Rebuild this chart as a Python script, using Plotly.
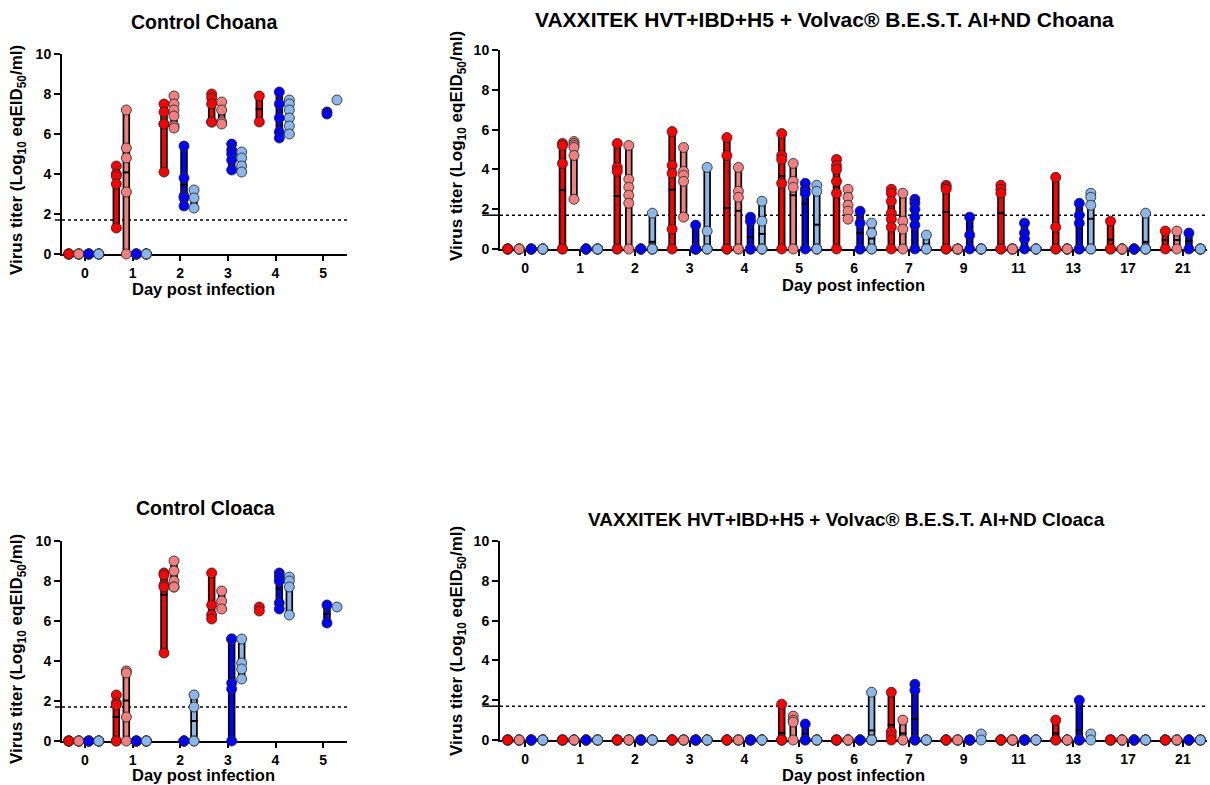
import plotly.graph_objects as go

# ---------------- data ----------------
CTRL_DAYS = ["0", "1", "2", "3", "4", "5"]
VAX_DAYS = ["0", "1", "2", "3", "4", "5", "6", "7", "9", "11", "13", "17", "21"]
GROUP_COLORS = ["#FF0000", "#F08080", "#0000FF", "#8DB6E8"]
LOD = 1.7

ctrl_choana_red = [[0, 0, 0, 0, 0], [4.4, 4.0, 3.9, 3.5, 1.3], [7.5, 7.1, 6.5, 6.5, 4.1],
                   [8.0, 7.8, 7.5, 6.6, 6.6], [7.9, 6.6], []]
ctrl_choana_pink = [[0, 0, 0, 0, 0], [7.2, 5.3, 4.8, 3.1, 0], [7.9, 7.5, 7.2, 6.9, 6.4, 6.3],
                    [7.6, 7.2, 6.6, 6.5], [], []]
ctrl_choana_blue = [[0, 0, 0, 0, 0], [0, 0, 0, 0, 0], [5.4, 3.8, 2.9, 2.8, 2.4],
                    [5.5, 5.2, 5.0, 4.7, 4.2], [8.1, 7.5, 6.8, 6.1, 5.8], [7.1, 7.0]]
ctrl_choana_lblue = [[0, 0, 0, 0, 0], [0, 0, 0, 0, 0], [3.2, 2.8, 2.3],
                     [5.1, 4.8, 4.4, 4.1], [7.7, 7.5, 7.2, 6.8, 6.4, 6.0], [7.7]]

ctrl_cloaca_red = [[0, 0, 0, 0, 0], [2.3, 1.9, 1.8, 0, 0], [8.4, 8.3, 7.8, 7.7, 4.4],
                   [8.4, 6.8, 6.3, 6.1], [6.7, 6.5], []]
ctrl_cloaca_pink = [[0, 0, 0, 0, 0], [3.5, 3.4, 1.2, 0], [9.0, 8.5, 8.0, 7.7, 7.7],
                    [7.5, 7.0, 6.6], [], []]
ctrl_cloaca_blue = [[0, 0, 0, 0, 0], [0, 0, 0, 0, 0], [0, 0, 0, 0, 0],
                    [5.1, 5.1, 2.9, 2.6, 0], [8.4, 8.2, 8.0, 6.9, 6.6], [6.8, 5.9]]
ctrl_cloaca_lblue = [[0, 0, 0, 0, 0], [0, 0, 0, 0, 0], [2.3, 1.7, 0, 0],
                     [5.1, 3.9, 3.6, 3.1], [8.2, 8.0, 7.7, 6.3], [6.7]]

vax_choana_red = [[0, 0, 0, 0, 0], [5.3, 5.2, 4.3, 0, 0], [5.3, 4.1, 3.9, 0, 0],
                  [5.9, 4.2, 3.8, 1.0, 0], [5.6, 4.7, 0, 0, 0], [5.8, 4.7, 4.5, 3.3, 0],
                  [4.5, 4.2, 4.0, 3.4, 2.8, 0], [3.0, 2.8, 2.4, 1.8, 1.5, 1.1, 0],
                  [3.2, 3.1, 3.0, 0, 0], [3.2, 3.0, 2.8, 0, 0], [3.6, 1.1, 0, 0],
                  [1.4, 0, 0], [0.9, 0]]
vax_choana_pink = [[0, 0, 0, 0, 0], [5.4, 5.3, 5.2, 5.1, 4.7, 2.5], [5.2, 3.5, 3.1, 2.7, 2.3, 0],
                   [5.1, 3.9, 3.7, 3.4, 1.6], [4.1, 2.9, 2.6, 0, 0], [4.3, 3.4, 3.1, 0],
                   [3.0, 2.6, 2.2, 1.9, 1.5], [2.8, 1.4, 1.0, 0], [0, 0, 0, 0, 0],
                   [0, 0, 0, 0, 0], [0, 0, 0, 0, 0], [0, 0, 0, 0, 0], [0.9, 0]]
vax_choana_blue = [[0, 0, 0, 0, 0], [0, 0, 0, 0, 0], [0, 0, 0, 0, 0],
                   [1.2, 0, 0, 0, 0, 0], [1.6, 1.4, 0, 0, 0], [3.3, 3.0, 2.8, 0],
                   [1.9, 1.3, 0, 0], [2.5, 2.3, 2.0, 1.6, 1.2, 0], [1.6, 0.7, 0],
                   [1.3, 0.8, 0.5, 0], [2.3, 1.7, 1.3, 0, 0], [0, 0, 0, 0, 0], [0.8, 0]]
vax_choana_lblue = [[0, 0, 0, 0, 0], [0, 0, 0, 0, 0], [1.8, 0, 0, 0, 0],
                    [4.1, 0.9, 0, 0, 0], [2.4, 1.4, 0, 0, 0], [3.2, 2.9, 0, 0, 0],
                    [1.3, 0.8, 0, 0], [0.7, 0, 0], [0, 0, 0, 0, 0], [0, 0, 0, 0, 0],
                    [2.8, 2.6, 2.2, 0, 0], [1.8, 0, 0, 0, 0], [0, 0, 0, 0, 0]]

vax_cloaca_red = [[0, 0, 0, 0, 0], [0, 0, 0, 0, 0], [0, 0, 0, 0, 0], [0, 0, 0, 0, 0],
                  [0, 0, 0, 0, 0], [1.8, 0, 0, 0, 0], [0, 0, 0, 0, 0], [2.4, 0.4, 0.2, 0],
                  [0, 0, 0, 0, 0], [0, 0, 0, 0, 0], [1.0, 0, 0], [0, 0, 0, 0, 0], [0, 0, 0, 0, 0]]
vax_cloaca_pink = [[0, 0, 0, 0, 0], [0, 0, 0, 0, 0], [0, 0, 0, 0, 0], [0, 0, 0, 0, 0],
                   [0, 0, 0, 0, 0], [1.2, 1.0, 0.9, 0], [0, 0, 0, 0, 0], [1.0, 0, 0],
                   [0, 0, 0, 0, 0], [0, 0, 0, 0, 0], [0, 0, 0, 0, 0], [0, 0, 0, 0, 0], [0, 0, 0, 0, 0]]
vax_cloaca_blue = [[0, 0, 0, 0, 0], [0, 0, 0, 0, 0], [0, 0, 0, 0, 0], [0, 0, 0, 0, 0],
                   [0, 0, 0, 0, 0], [0.8, 0, 0], [0, 0, 0, 0, 0], [2.8, 2.5, 0, 0, 0],
                   [0, 0, 0, 0, 0], [0, 0, 0, 0, 0], [2.0, 0, 0, 0], [0, 0, 0, 0, 0], [0, 0, 0, 0, 0]]
vax_cloaca_lblue = [[0, 0, 0, 0, 0], [0, 0, 0, 0, 0], [0, 0, 0, 0, 0], [0, 0, 0, 0, 0],
                    [0, 0, 0, 0, 0], [0, 0, 0, 0, 0], [2.4, 0, 0, 0, 0], [0, 0, 0, 0, 0],
                    [0.3, 0], [0, 0, 0, 0, 0], [0.3, 0], [0, 0, 0, 0, 0], [0, 0, 0, 0, 0]]

TITLES = ["Control Choana",
          "VAXXITEK HVT+IBD+H5 + Volvac® B.E.S.T. AI+ND Choana",
          "Control Cloaca",
          "VAXXITEK HVT+IBD+H5 + Volvac® B.E.S.T. AI+ND Cloaca"]
X_TITLE = "Day post infection"
Y_TITLE = "Virus titer (Log<sub>10</sub> eqEID<sub>50</sub>/ml)"

# ---------------- layout helpers ----------------
W, H = 1210, 785
FONT = "Arial, 'Liberation Sans', sans-serif"

def px_dom(a, b):
    return [a / W, b / W]

def py_dom(top, bottom):
    return [1 - bottom / H, 1 - top / H]

panels = [
    dict(days=CTRL_DAYS, groups=[ctrl_choana_red, ctrl_choana_pink, ctrl_choana_blue, ctrl_choana_lblue],
         xd=px_dom(62, 347), yd=py_dom(54, 254), xr=[-0.48, 5.5],
         offs=[-0.34, -0.13, 0.08, 0.29], half=0.075,
         title=TITLES[0], tpos=(204, 22), tsize=19.5,
         xtpos=(204, 289), ytpos=(18, 160)),
    dict(days=VAX_DAYS, groups=[vax_choana_red, vax_choana_pink, vax_choana_blue, vax_choana_lblue],
         xd=px_dom(500, 1207), yd=py_dom(50, 249), xr=[-0.46, 12.44],
         offs=[-0.32, -0.11, 0.11, 0.32], half=0.065,
         title=TITLES[1], tpos=(824, 20), tsize=21,
         xtpos=(853, 285), ytpos=(458, 146)),
    dict(days=CTRL_DAYS, groups=[ctrl_cloaca_red, ctrl_cloaca_pink, ctrl_cloaca_blue, ctrl_cloaca_lblue],
         xd=px_dom(62, 347), yd=py_dom(541, 741), xr=[-0.48, 5.5],
         offs=[-0.34, -0.13, 0.08, 0.29], half=0.075,
         title=TITLES[2], tpos=(205, 508), tsize=19.5,
         xtpos=(204, 775), ytpos=(18, 649)),
    dict(days=VAX_DAYS, groups=[vax_cloaca_red, vax_cloaca_pink, vax_cloaca_blue, vax_cloaca_lblue],
         xd=px_dom(500, 1207), yd=py_dom(541, 740), xr=[-0.46, 12.44],
         offs=[-0.32, -0.11, 0.11, 0.32], half=0.065,
         title=TITLES[3], tpos=(846, 519), tsize=19,
         xtpos=(853, 775), ytpos=(458, 641)),
]

fig = go.Figure()
annotations = []
shapes = []

for i, p in enumerate(panels):
    ax = "" if i == 0 else str(i + 1)
    xref, yref = "x" + ax, "y" + ax
    rng_x, rng_y = [[] for _ in range(4)], [[] for _ in range(4)]
    mean_x, mean_y = [], []
    pts = [([], []) for _ in range(4)]
    for g, series in enumerate(p["groups"]):
        for d, vals in enumerate(series):
            if not vals:
                continue
            pos = d + p["offs"][g]
            lo, hi = min(vals), max(vals)
            if hi > lo:
                rng_x[g] += [pos, pos, None]
                rng_y[g] += [lo, hi, None]
                m = sum(vals) / len(vals)
                mean_x += [pos - p["half"], pos + p["half"], None]
                mean_y += [m, m, None]
            for v in vals:
                pts[g][0].append(pos)
                pts[g][1].append(v)
    # range bars: black outline + coloured core
    all_x = [v for g in range(4) for v in rng_x[g]]
    all_y = [v for g in range(4) for v in rng_y[g]]
    fig.add_trace(go.Scatter(x=all_x, y=all_y, mode="lines",
                             line=dict(color="black", width=7.5),
                             xaxis=xref, yaxis=yref, showlegend=False, cliponaxis=False,
                             hoverinfo="skip"))
    for g in range(4):
        fig.add_trace(go.Scatter(x=rng_x[g], y=rng_y[g], mode="lines",
                                 line=dict(color=GROUP_COLORS[g], width=4),
                                 xaxis=xref, yaxis=yref, showlegend=False, cliponaxis=False,
                                 hoverinfo="skip"))
    fig.add_trace(go.Scatter(x=mean_x, y=mean_y, mode="lines",
                             line=dict(color="black", width=2),
                             xaxis=xref, yaxis=yref, showlegend=False, cliponaxis=False,
                             hoverinfo="skip"))
    for g in range(4):
        fig.add_trace(go.Scatter(x=pts[g][0], y=pts[g][1], mode="markers",
                                 marker=dict(size=10, color=GROUP_COLORS[g],
                                             line=dict(color="rgba(40,40,40,0.85)", width=1)),
                                 xaxis=xref, yaxis=yref, showlegend=False, cliponaxis=False))

    fig.update_layout(**{
        "xaxis" + ax: dict(domain=p["xd"], range=p["xr"], anchor=yref, automargin=False,
                           tickmode="array", tickvals=list(range(len(p["days"]))),
                           ticktext=p["days"], showline=True, linecolor="black", linewidth=2,
                           ticks="outside", ticklen=5, tickwidth=2, tickcolor="black",
                           showgrid=False, zeroline=False, layer="below traces",
                           tickfont=dict(family=FONT, size=14, color="black", weight="bold")),
        "yaxis" + ax: dict(domain=p["yd"], range=[0, 10], anchor=xref, automargin=False,
                           tickmode="array", tickvals=[0, 2, 4, 6, 8, 10],
                           showline=True, linecolor="black", linewidth=2,
                           ticks="outside", ticklen=6, tickwidth=2, tickcolor="black",
                           showgrid=False, zeroline=False, layer="below traces",
                           tickfont=dict(family=FONT, size=14, color="black", weight="bold")),
    })
    shapes.append(dict(type="line", xref=xref + " domain", yref=yref, x0=0, x1=1,
                       y0=LOD, y1=LOD, line=dict(color="black", width=1.5, dash="dot"),
                       layer="below"))
    shapes.append(dict(type="line", xref=xref + " domain", yref=yref, x0=-0.025, x1=0,
                       y0=LOD, y1=LOD, line=dict(color="black", width=1.5), layer="below"))
    annotations.append(dict(text="<b>" + p["title"] + "</b>", xref="paper", yref="paper",
                            x=p["tpos"][0] / W, y=1 - p["tpos"][1] / H,
                            xanchor="center", yanchor="middle", showarrow=False,
                            font=dict(family=FONT, size=p["tsize"], color="black")))
    annotations.append(dict(text="<b>" + X_TITLE + "</b>", xref="paper", yref="paper",
                            x=p["xtpos"][0] / W, y=1 - p["xtpos"][1] / H,
                            xanchor="center", yanchor="middle", showarrow=False,
                            font=dict(family=FONT, size=16.5, color="black")))
    annotations.append(dict(text="<b>" + Y_TITLE + "</b>", xref="paper", yref="paper",
                            x=p["ytpos"][0] / W, y=1 - p["ytpos"][1] / H, textangle=-90,
                            xanchor="center", yanchor="middle", showarrow=False,
                            font=dict(family=FONT, size=17, color="black")))

fig.update_layout(width=W, height=H, autosize=False,
                  margin=dict(l=0, r=0, t=0, b=0, autoexpand=False),
                  paper_bgcolor="white", plot_bgcolor="white",
                  annotations=annotations, shapes=shapes, hovermode=False,
                  font=dict(family=FONT, color="black"))

fig.write_html("out.html", config={"displayModeBar": False},
               post_script="document.body.style.margin='0';document.body.style.overflow='hidden';")
